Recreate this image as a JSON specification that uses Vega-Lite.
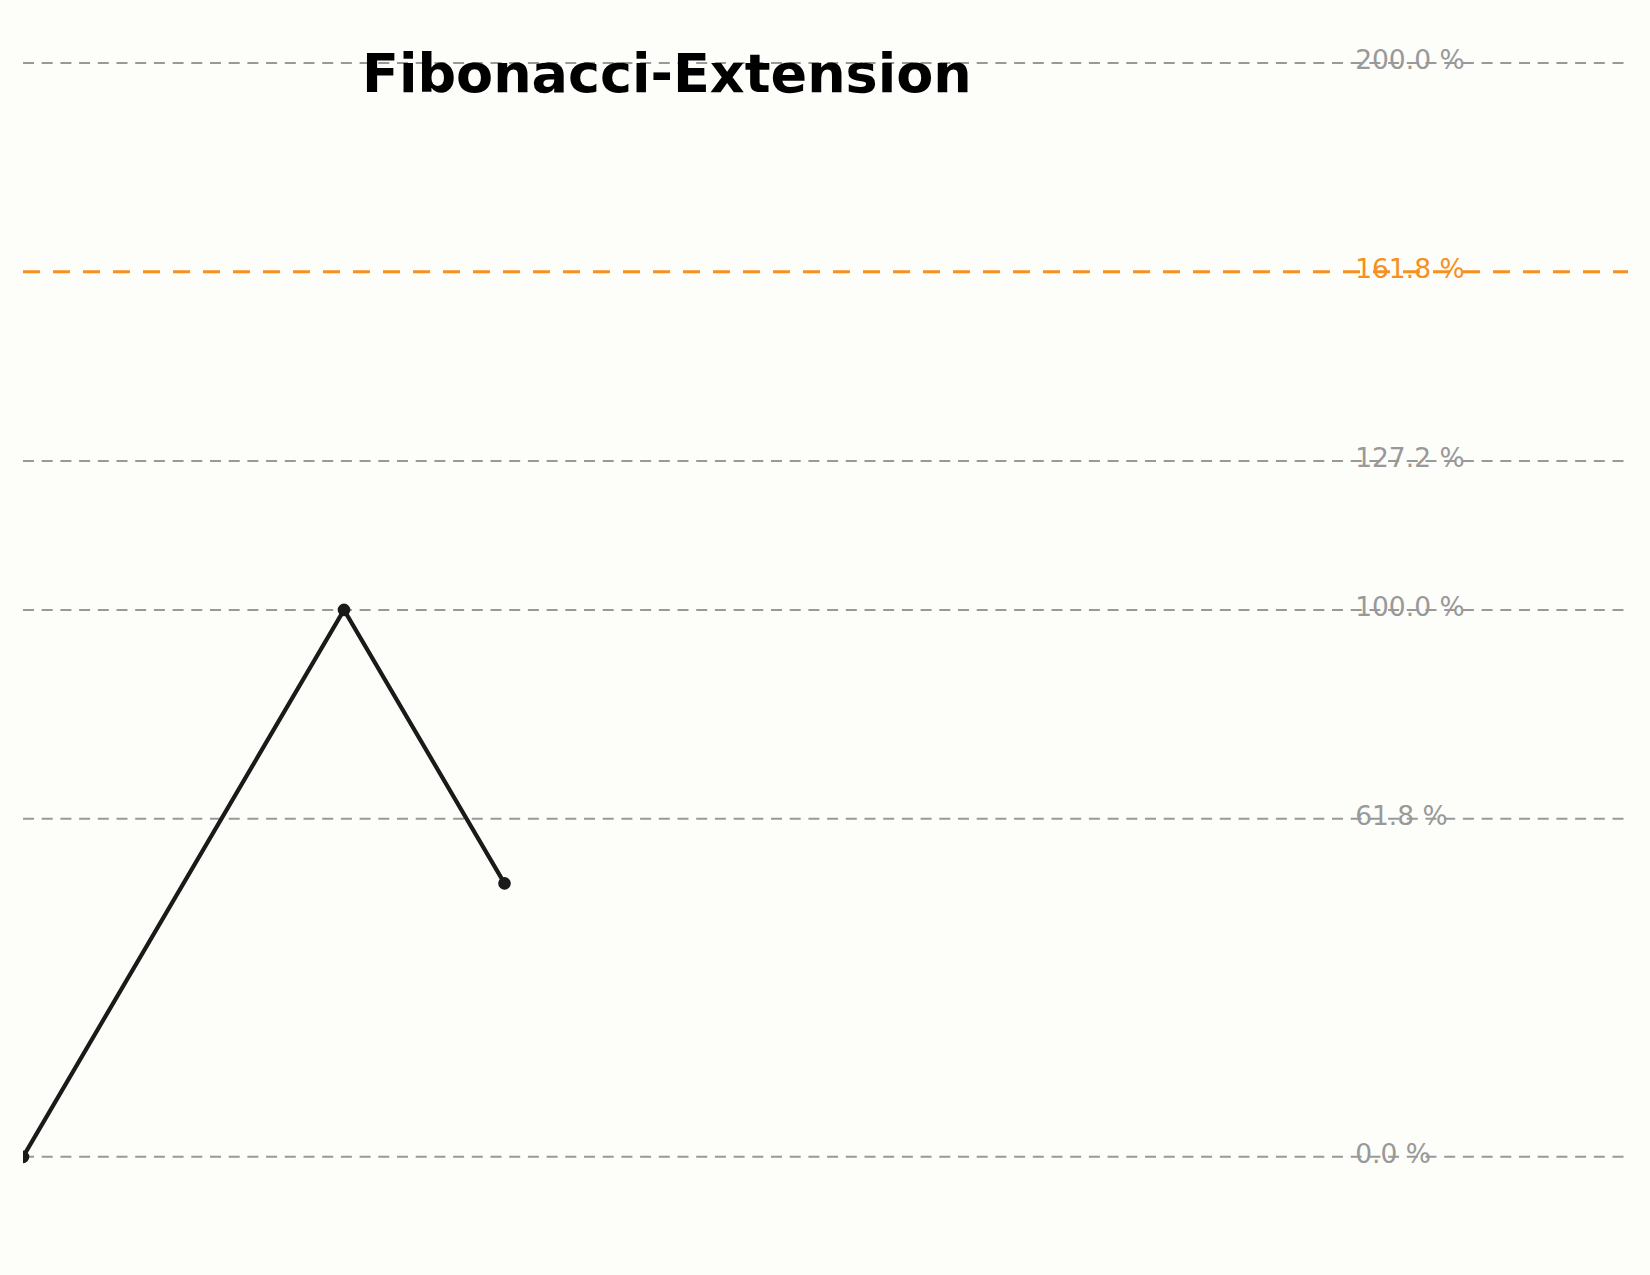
{
  "$schema": "https://vega.github.io/schema/vega-lite/v6.json",
  "autosize": "none",
  "width": 1605,
  "height": 1275,
  "padding": {"left": 23, "right": 22, "top": 0, "bottom": 0},
  "background": "#fdfdf9",
  "config": {
    "view": {"stroke": null},
    "font": "DejaVu Sans"
  },
  "title": {
    "text": "Fibonacci-Extension",
    "anchor": "start",
    "frame": "group",
    "dx": 339,
    "dy": 146,
    "offset": 0,
    "baseline": "alphabetic",
    "font": "DejaVu Sans",
    "fontSize": 54,
    "fontWeight": "bold",
    "color": "#000000"
  },
  "datasets": {
    "levels": [
      {"level": 0.0, "label": "0.0 %", "kind": "level"},
      {"level": 61.8, "label": "61.8 %", "kind": "level"},
      {"level": 100.0, "label": "100.0 %", "kind": "level"},
      {"level": 127.2, "label": "127.2 %", "kind": "level"},
      {"level": 161.8, "label": "161.8 %", "kind": "golden"},
      {"level": 200.0, "label": "200.0 %", "kind": "level"}
    ],
    "swing": [
      {"step": 0, "value": 0},
      {"step": 2, "value": 100},
      {"step": 3, "value": 50}
    ]
  },
  "layer": [
    {
      "data": {"name": "levels"},
      "mark": {"type": "rule", "clip": true},
      "encoding": {
        "x": {"datum": 0, "type": "quantitative", "scale": {"domain": [0, 10], "nice": false, "zero": false}, "axis": null},
        "x2": {"datum": 10},
        "y": {"field": "level", "type": "quantitative", "scale": {"domain": [-21.6, 211.5], "nice": false, "zero": false}, "axis": null},
        "color": {"field": "kind", "type": "nominal", "scale": {"domain": ["level", "golden"], "range": ["#999999", "#f7901e"]}, "legend": null},
        "strokeWidth": {"field": "kind", "type": "nominal", "scale": {"domain": ["level", "golden"], "range": [2, 3]}, "legend": null},
        "strokeDash": {"field": "kind", "type": "nominal", "scale": {"domain": ["level", "golden"], "range": [[11, 7.7], [17, 13]]}, "legend": null}
      }
    },
    {
      "data": {"name": "levels"},
      "mark": {"type": "text", "align": "left", "baseline": "middle", "dy": -2, "fontSize": 26.5, "font": "DejaVu Sans"},
      "encoding": {
        "x": {"datum": 8.3, "type": "quantitative"},
        "y": {"field": "level", "type": "quantitative"},
        "text": {"field": "label", "type": "nominal"},
        "color": {"field": "kind", "type": "nominal", "scale": {"domain": ["level", "golden"], "range": ["#999999", "#f7901e"]}, "legend": null}
      }
    },
    {
      "data": {"name": "swing"},
      "mark": {"type": "line", "color": "#1a1a1a", "strokeWidth": 4.2, "clip": true,
        "point": {"filled": true, "color": "#1a1a1a", "size": 160, "opacity": 1}},
      "encoding": {
        "x": {"field": "step", "type": "quantitative"},
        "y": {"field": "value", "type": "quantitative"}
      }
    }
  ]
}
